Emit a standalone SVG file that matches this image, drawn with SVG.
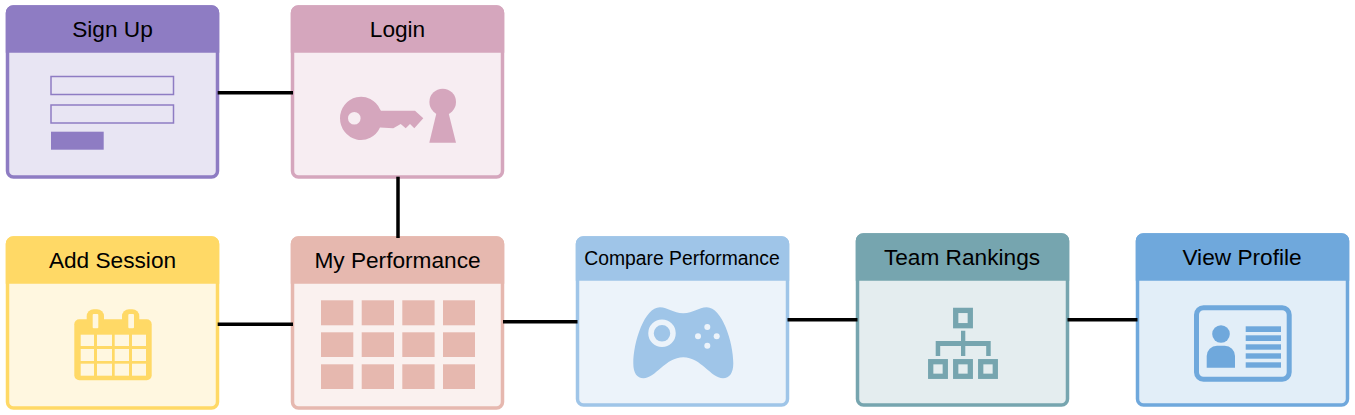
<svg xmlns="http://www.w3.org/2000/svg" width="1355" height="415" viewBox="0 0 1355 415">
<style>
text{font-family:"Liberation Sans",Arial,sans-serif;font-size:22.67px;fill:#000;text-anchor:middle}
.conn line{stroke:#000;stroke-width:3.5;fill:none}
.frame{stroke-width:3.5}
.purple .c{fill:#8E7CC3}.purple .frame{fill:#E8E5F3;stroke:#8E7CC3}
.pink .c{fill:#D5A6BD}.pink .frame{fill:#F7EDF2;stroke:#D5A6BD}
.yellow .c{fill:#FFD966}.yellow .frame{fill:#FFF7E0;stroke:#FFD966}
.salmon .c{fill:#E6B8AF}.salmon .frame{fill:#FAF1EF;stroke:#E6B8AF}
.sky .c{fill:#9FC5E8}.sky .frame{fill:#ECF3FA;stroke:#9FC5E8}
.teal .c{fill:#76A5AF}.teal .frame{fill:#E4EDEF;stroke:#76A5AF}
.blue .c{fill:#6FA8DC}.blue .frame{fill:#E2EEF8;stroke:#6FA8DC}
</style>
<g id="sign-up" class="purple">
<rect class="frame" x="7.500" y="7" width="210" height="170" rx="6"/>
<path class="c" d="M5.750 52.700V13a7.500 7.500 0 0 1 7.500-7.750H211.750a7.500 7.500 0 0 1 7.500 7.750V52.700Z"/>
<text x="112.500" y="37">Sign Up</text>
<rect x="51" y="76.500" width="122.500" height="18" fill="none" stroke="#8E7CC3" stroke-width="1.500"/>
<rect x="51" y="105" width="122.500" height="18" fill="none" stroke="#8E7CC3" stroke-width="1.500"/>
<rect class="c" x="51" y="131.700" width="52.700" height="18"/>
</g>
<g id="login" class="pink">
<rect class="frame" x="292.500" y="7" width="210" height="170" rx="6"/>
<path class="c" d="M290.750 52.700V13a7.500 7.500 0 0 1 7.500-7.750H496.750a7.500 7.500 0 0 1 7.500 7.750V52.700Z"/>
<text x="397.500" y="37">Login</text>
<path class="c" fill-rule="evenodd" d="M340 118.300a21 21.700 0 0 1 40-9L381 110.700H415L423.300 118.300L414.300 128.300L410 124L405.700 128.300L400.700 124L393.300 128.300L380 127.500a21 21.700 0 0 1 -40 -9.200ZM348 118.300a6.300 6.300 0 1 0 12.600 0a6.300 6.300 0 1 0 -12.600 0Z"/>
<circle class="c" cx="442.700" cy="102" r="13.300"/>
<path class="c" d="M436.700 112H448.300L456 142.700H429.300Z"/>
</g>
<g id="add-session" class="yellow">
<rect class="frame" x="7.500" y="238" width="210" height="170" rx="6"/>
<path class="c" d="M5.750 283.700V244a7.500 7.500 0 0 1 7.500-7.750H211.750a7.500 7.500 0 0 1 7.500 7.750V283.700Z"/>
<text x="112.500" y="268">Add Session</text>
<rect class="c" x="74.300" y="319.300" width="77.400" height="61" rx="5"/>
<rect class="c" x="86.700" y="309.300" width="17.300" height="24" rx="7"/>
<rect class="c" x="122" y="309.300" width="17.300" height="24" rx="7"/>
<g fill="#FFF7E0">
<rect x="92.700" y="314" width="5.600" height="14.300" rx="1"/><rect x="128.300" y="314" width="5.700" height="14.300" rx="1"/>
<rect x="80.700" y="334.700" width="13.300" height="11.300"/><rect x="97" y="334.700" width="15" height="11.300"/><rect x="114.700" y="334.700" width="14.300" height="11.300"/><rect x="132" y="334.700" width="14" height="11.300"/>
<rect x="80.700" y="349" width="13.300" height="12"/><rect x="97" y="349" width="15" height="12"/><rect x="114.700" y="349" width="14.300" height="12"/><rect x="132" y="349" width="14" height="12"/>
<rect x="80.700" y="363.700" width="13.300" height="12"/><rect x="97" y="363.700" width="15" height="12"/><rect x="114.700" y="363.700" width="14.300" height="12"/><rect x="132" y="363.700" width="14" height="12"/>
</g>
</g>
<g id="my-performance" class="salmon">
<rect class="frame" x="292.500" y="238" width="210" height="170" rx="6"/>
<path class="c" d="M290.750 283.700V244a7.500 7.500 0 0 1 7.500-7.750H496.750a7.500 7.500 0 0 1 7.500 7.750V283.700Z"/>
<text x="397.500" y="268">My Performance</text>
<g class="c">
<rect x="321" y="300.300" width="32.300" height="25"/><rect x="361.700" y="300.300" width="32.300" height="25"/><rect x="402.300" y="300.300" width="32.300" height="25"/><rect x="443" y="300.300" width="32" height="25"/>
<rect x="321" y="332.300" width="32.300" height="24.700"/><rect x="361.700" y="332.300" width="32.300" height="24.700"/><rect x="402.300" y="332.300" width="32.300" height="24.700"/><rect x="443" y="332.300" width="32" height="24.700"/>
<rect x="321" y="364.300" width="32.300" height="24.700"/><rect x="361.700" y="364.300" width="32.300" height="24.700"/><rect x="402.300" y="364.300" width="32.300" height="24.700"/><rect x="443" y="364.300" width="32" height="24.700"/>
</g>
</g>
<g id="compare-performance" class="sky">
<rect class="frame" x="577.500" y="238" width="210" height="167" rx="6"/>
<path class="c" d="M575.750 280.700V244a7.500 7.500 0 0 1 7.500-7.750H781.750a7.500 7.500 0 0 1 7.500 7.750V280.700Z"/>
<text x="682" y="265" style="font-size:19.33px">Compare Performance</text>
<path class="c" d="M660 307.300C668 307.300 673 313.300 683.300 313.300C693.500 313.300 698.500 307.300 706.700 307.300C722 307.300 733.300 342 733.300 363.300C733.300 373 729.500 378.300 723 378.300C711 378.300 701 357.300 683.300 357.300C665.500 357.300 655.500 378.300 643.500 378.300C637 378.300 633.300 373 633.300 363.300C633.300 342 644.500 307.300 660 307.300Z"/>
<circle cx="662" cy="333.300" r="11" fill="none" stroke="#ECF3FA" stroke-width="5.500"/>
<g fill="#ECF3FA"><circle cx="707.300" cy="327" r="3"/><circle cx="698" cy="336.300" r="3"/><circle cx="716.700" cy="336.300" r="3"/><circle cx="707.300" cy="345.700" r="3"/></g>
</g>
<g id="team-rankings" class="teal">
<rect class="frame" x="857.500" y="235" width="210" height="170" rx="6"/>
<path class="c" d="M855.750 280.700V241a7.500 7.500 0 0 1 7.500-7.750H1061.750a7.500 7.500 0 0 1 7.500 7.750V280.700Z"/>
<text x="962" y="265">Team Rankings</text>
<g fill="none" stroke="#76A5AF" stroke-width="5.300">
<rect x="955.700" y="310.400" width="14.600" height="15.300"/>
<rect x="930.700" y="361.700" width="14.600" height="14.600"/>
<rect x="955.700" y="361.700" width="14.600" height="14.600"/>
<rect x="980.700" y="361.700" width="14.600" height="14.600"/>
</g>
<path class="c" d="M961 330.700H965.300V341H990.700V356H986.200V346H965.300V356H961V346H940.200V356H935.700V341H961Z"/>
</g>
<g id="view-profile" class="blue">
<rect class="frame" x="1137.500" y="235" width="210" height="170" rx="6"/>
<path class="c" d="M1135.750 280.700V241a7.500 7.500 0 0 1 7.500-7.750H1341.750a7.500 7.500 0 0 1 7.500 7.750V280.700Z"/>
<text x="1242" y="265">View Profile</text>
<rect x="1196.500" y="307.800" width="92.700" height="71.400" rx="7" fill="none" stroke="#6FA8DC" stroke-width="5"/>
<circle class="c" cx="1221" cy="334" r="8.800"/>
<path class="c" d="M1206.700 367.700V356a10.300 10.300 0 0 1 10.300-10.300H1224.700a10.300 10.300 0 0 1 10.300 10.300V367.700Z"/>
<g class="c">
<rect x="1245.700" y="326.300" width="35.300" height="5.700"/><rect x="1245.700" y="335.300" width="35.300" height="5.700"/><rect x="1245.700" y="344.300" width="35.300" height="5.400"/><rect x="1245.700" y="353.300" width="35.300" height="5.400"/><rect x="1245.700" y="362.300" width="35.300" height="5.400"/>
</g>
</g>
<g class="conn">
<line x1="217.700" y1="92.700" x2="293" y2="92.700"/>
<line x1="398" y1="176.700" x2="398" y2="238"/>
<line x1="217.700" y1="324.200" x2="293" y2="324.200"/>
<line x1="503" y1="321.700" x2="577.500" y2="321.700"/>
<line x1="787.500" y1="319.700" x2="857.500" y2="319.700"/>
<line x1="1067.500" y1="319.700" x2="1137.500" y2="319.700"/>
</g>
</svg>
